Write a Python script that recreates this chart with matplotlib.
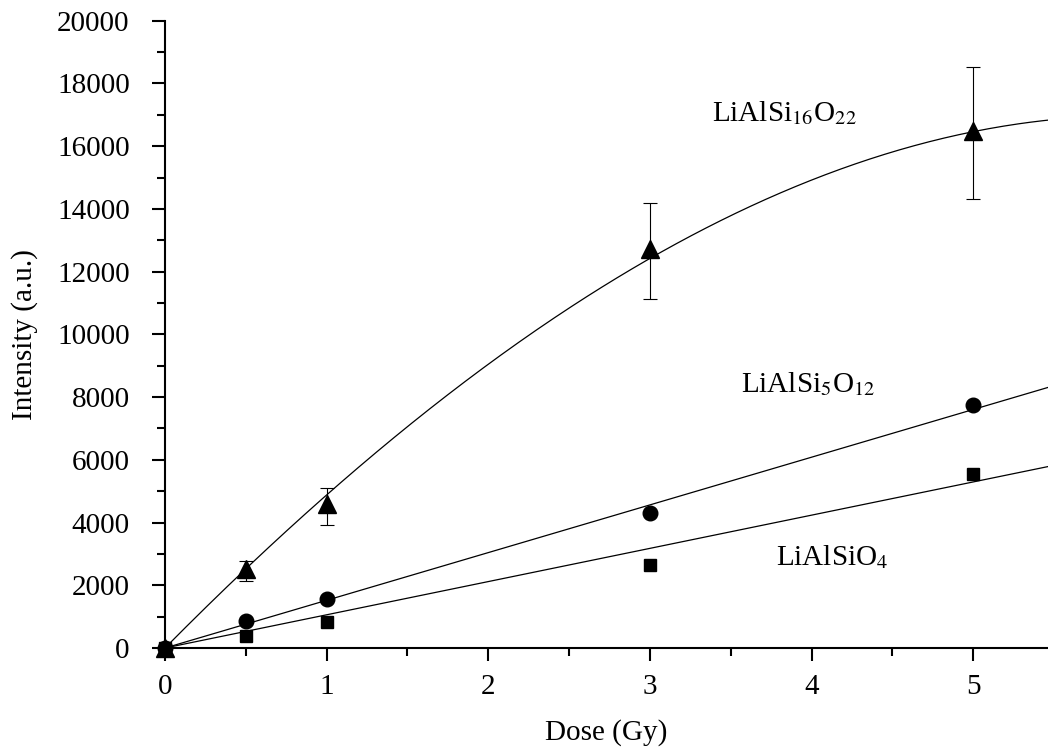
import numpy as np
import matplotlib.pyplot as plt
from matplotlib.ticker import MultipleLocator

plt.rcParams['font.family'] = 'Liberation Serif'
plt.rcParams['mathtext.fontset'] = 'stix'

# Dose values [Gy]
dose = [0, 0.5, 1, 3, 5]
# LiAlSi16O22 intensity and error
i16 = [0, 2525, 4600, 12730, 16470]
i16_lo = [0, 390, 680, 1610, 2150]
i16_hi = [0, 260, 510, 1470, 2040]
# LiAlSi5O12 intensity
i5 = [0, 860, 1560, 4305, 7760]
# LiAlSiO4 intensity
i1 = [0, 380, 840, 2646, 5560]

# fitted curves
# LiAlSi16O22: y = a*x + b*x^2 + c*x^3
fit16 = [5210, -316, -13.5]
# straight lines through origin: slopes
slope5 = 1521
slope1 = 1059

# labels and their positions
names = ['LiAlSi$_{16}$O$_{22}$', 'LiAlSi$_{5}$O$_{12}$', 'LiAlSiO$_{4}$']
name_x = [3.385, 3.56, 3.78]
name_y = [17050, 8400, 2900]

fs = 21

fig = plt.figure(figsize=(10.48, 7.49), dpi=100)
ax = fig.add_axes([165/1048, 101/749, 1 - 165/1048, 627.3/749])

xf = np.linspace(0, 5.5, 300)
a, b, c = fit16

ax.plot(xf, a*xf + b*xf**2 + c*xf**3, color='black', lw=0.9)
ax.plot(xf, slope5*xf, color='black', lw=0.9)
ax.plot(xf, slope1*xf, color='black', lw=0.9)

ax.errorbar(dose[1:], i16[1:], yerr=[i16_lo[1:], i16_hi[1:]], fmt='none',
            ecolor='black', elinewidth=0.8, capsize=4.7, capthick=0.8)
ax.plot(dose, i16, '^', color='black', ms=12.5, clip_on=False)
ax.plot(dose, i5, 'o', color='black', ms=10.5, clip_on=False)
ax.plot(dose, i1, 's', color='black', ms=8.5, clip_on=False)

for n, tx, ty in zip(names, name_x, name_y):
    ax.text(tx, ty, n, fontsize=fs, ha='left', va='center')

ax.set_xlim(0, 5.462)
ax.set_ylim(0, 20000)
ax.xaxis.set_major_locator(MultipleLocator(1))
ax.xaxis.set_minor_locator(MultipleLocator(0.5))
ax.yaxis.set_major_locator(MultipleLocator(2000))
ax.yaxis.set_minor_locator(MultipleLocator(1000))

for s in ['top', 'right']:
    ax.spines[s].set_visible(False)
for s in ['left', 'bottom']:
    ax.spines[s].set_linewidth(1.5)

ax.tick_params(which='major', direction='out', length=9.4, width=1.5, labelsize=fs)
ax.tick_params(which='minor', direction='out', length=5.8, width=1.5)
ax.tick_params(axis='y', which='major', pad=16)
ax.tick_params(axis='x', which='major', pad=9)

ax.set_xlabel('Dose (Gy)', fontsize=fs, labelpad=14)
ax.set_ylabel('Intensity (a.u.)', fontsize=fs, labelpad=14)

fig.savefig('out.png', dpi=100)
